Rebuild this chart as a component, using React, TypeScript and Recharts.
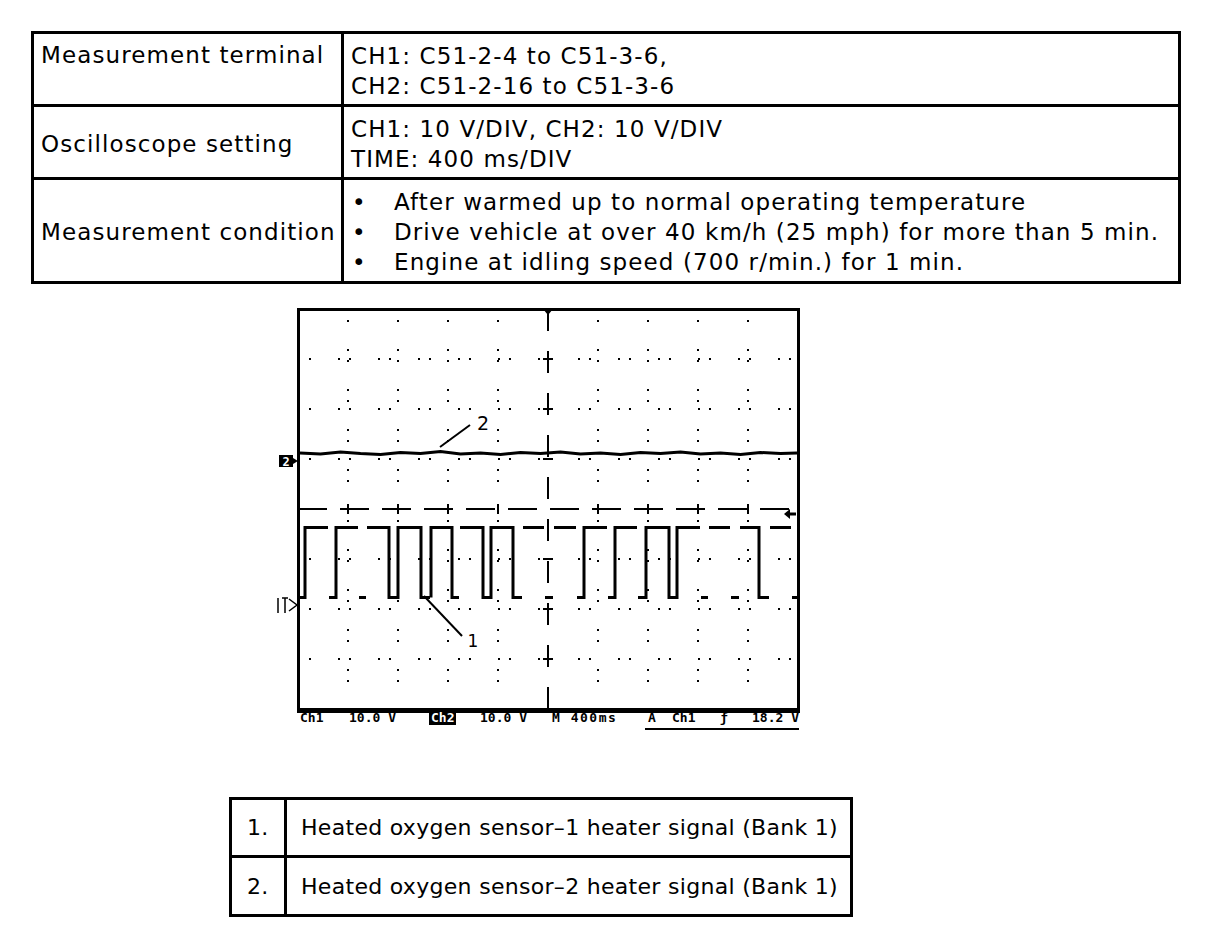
import React from "react";
import {
  ComposedChart,
  Line,
  XAxis,
  YAxis,
  CartesianGrid,
  ReferenceLine,
  ReferenceDot,
} from "recharts";

// scope setup
const VOLTS_PER_DIV = 10;
const MS_PER_DIV = 400;
const CH1_GROUND_DIV = -1.92; // CH1 "1" marker position (div from centre)
const CH2_GROUND_DIV = 0.96; // CH2 "2" marker position
const TRIGGER_LEVEL = 18.2; // V on CH1
const TRIGGER_TIME = 2000; // ms

const gridTimes = [400, 800, 1200, 1600, 2400, 2800, 3200, 3600];
const gridDivs = [-3, -2, -1, 1, 2, 3];
const centreTickTimes = [400, 800, 1200, 1600, 2400, 2800, 3200, 3600];
const centreTickDivs = [-3, -2, -1, 1, 2, 3];
const minorTimes = [
  80, 160, 240, 320, 480, 560, 640, 720, 880, 960, 1040, 1120, 1280, 1360, 1440, 1520,
  1680, 1760, 1840, 1920, 2080, 2160, 2240, 2320, 2480, 2560, 2640, 2720, 2880, 2960,
  3040, 3120, 3280, 3360, 3440, 3520, 3680, 3760, 3840, 3920,
];

// CH1 heater signal (sensor 1), volts; trace is broken between pieces as on the screen
const HI = 15.5;
const LO = 1.5;
const ch1Pieces: [number, number][][] = [
  [[16, LO], [56, LO], [56, HI], [240, HI]],
  [[248, LO], [304, LO], [304, HI], [480, HI]],
  [[488, LO], [544, LO]],
  [[552, HI], [728, HI], [728, LO], [800, LO], [800, HI], [984, HI], [984, LO], [1056, LO]],
  [[1064, LO], [1064, HI], [1232, HI], [1232, LO], [1288, LO]],
  [[1296, HI], [1480, HI], [1480, LO], [1544, LO], [1544, HI], [1720, HI], [1720, LO], [1792, LO]],
  [[1800, HI], [1968, HI]],
  [[1976, LO], [2040, LO]],
  [[2048, HI], [2224, HI]],
  [[2232, LO], [2288, LO], [2288, HI], [2472, HI]],
  [[2480, LO], [2536, LO], [2536, HI], [2712, HI]],
  [[2720, LO], [2784, LO], [2784, HI], [2968, HI], [2968, LO], [3032, LO], [3032, HI], [3216, HI]],
  [[3224, LO], [3280, LO]],
  [[3288, HI], [3456, HI]],
  [[3464, LO], [3528, LO]],
  [[3536, HI], [3688, HI], [3688, LO], [3768, LO]],
  [[3776, HI], [3944, HI]],
  [[3952, LO], [3992, LO]],
];

// CH2 heater signal (sensor 2), volts
const ch2Samples: [number, number][] = [
  [16, 1.6], [180, 1.4], [340, 1.8], [500, 1.5], [660, 1.3], [820, 1.7], [980, 1.5],
  [1140, 1.9], [1300, 1.4], [1460, 1.6], [1620, 1.3], [1780, 1.7], [1940, 1.5], [2100, 1.8],
  [2260, 1.4], [2420, 1.6], [2580, 1.3], [2740, 1.7], [2900, 1.5], [3060, 1.8], [3220, 1.4],
  [3380, 1.6], [3540, 1.3], [3700, 1.7], [3860, 1.5], [3992, 1.6],
];

// leader lines for the callouts: [t, div]
const callout2: [number, number][] = [[1136, 1.24], [1376, 1.68]];
const callout2Label: [number, number] = [1480, 1.72];
const callout1: [number, number][] = [[1008, -1.74], [1312, -2.54]];
const callout1Label: [number, number] = [1400, -2.62];

const ch1Data: { t: number; v: number | null }[] = [];
ch1Pieces.forEach((piece, i) => {
  if (i > 0) {
    const prev = ch1Pieces[i - 1];
    ch1Data.push({ t: (prev[prev.length - 1][0] + piece[0][0]) / 2, v: null });
  }
  piece.forEach(([t, v]) => ch1Data.push({ t, v }));
});
const ch2Data = ch2Samples.map(([t, v]) => ({ t, v }));

const chDomain = (groundDiv: number) => [
  (-4 - groundDiv) * VOLTS_PER_DIV,
  (4 - groundDiv) * VOLTS_PER_DIV,
];

const P = (v: number) => v - 8; // page px -> wrapper px

const cell: React.CSSProperties = {
  position: "absolute",
  fontSize: 23,
  lineHeight: "30px",
  whiteSpace: "nowrap",
  letterSpacing: 1.1,
};

const legendCell: React.CSSProperties = {
  ...cell,
  fontSize: 22,
  letterSpacing: 0.3,
};

const status: React.CSSProperties = {
  position: "absolute",
  top: P(711),
  fontFamily: "'DejaVu Sans Mono', monospace",
  fontWeight: "bold",
  fontSize: 13,
  lineHeight: "14px",
  whiteSpace: "nowrap",
};

function Scope() {
  return (
    <ComposedChart
      width={540}
      height={420}
      margin={{ top: 9, right: 12, bottom: 11, left: 28 }}
    >
      <XAxis xAxisId="t" dataKey="t" type="number" domain={[0, MS_PER_DIV * 10]} ticks={gridTimes} hide allowDataOverflow />
      <XAxis
        xAxisId="top"
        dataKey="t"
        type="number"
        orientation="top"
        domain={[0, MS_PER_DIV * 10]}
        ticks={minorTimes}
        allowDataOverflow
        height={0}
        mirror
        axisLine={false}
        tick={false}
        tickSize={3}
        tickLine={{ stroke: "#000", strokeWidth: 2 }}
      />
      <YAxis yAxisId="div" type="number" domain={[-4, 4]} ticks={gridDivs} hide allowDataOverflow />
      <YAxis yAxisId="ch1" type="number" domain={chDomain(CH1_GROUND_DIV)} hide allowDataOverflow />
      <YAxis yAxisId="ch2" type="number" domain={chDomain(CH2_GROUND_DIV)} hide allowDataOverflow />
      <CartesianGrid xAxisId="t" yAxisId="div" stroke="#000" strokeWidth={2} strokeDasharray="2 9 2 27" />
      <ReferenceLine xAxisId="t" yAxisId="div" x={TRIGGER_TIME} stroke="#000" strokeWidth={2} strokeDasharray="22 20" />
      <ReferenceLine xAxisId="t" yAxisId="div" y={0} stroke="#000" strokeWidth={2} strokeDasharray="29 13" />
      {centreTickTimes.map((t) => (
        <ReferenceLine
          key={`tx${t}`}
          xAxisId="t"
          yAxisId="div"
          segment={[{ x: t, y: -0.1 }, { x: t, y: 0.1 }]}
          stroke="#000"
          strokeWidth={2}
        />
      ))}
      {centreTickDivs.map((d) => (
        <ReferenceLine
          key={`ty${d}`}
          xAxisId="t"
          yAxisId="div"
          segment={[{ x: TRIGGER_TIME - 40, y: d }, { x: TRIGGER_TIME + 40, y: d }]}
          stroke="#000"
          strokeWidth={2}
        />
      ))}
      <Line
        xAxisId="t"
        yAxisId="ch2"
        data={ch2Data}
        dataKey="v"
        type="linear"
        stroke="#000"
        strokeWidth={3}
        dot={false}
        isAnimationActive={false}
      />
      <Line
        xAxisId="t"
        yAxisId="ch1"
        data={ch1Data}
        dataKey="v"
        type="linear"
        stroke="#000"
        strokeWidth={3}
        dot={false}
        connectNulls={false}
        isAnimationActive={false}
      />
      <ReferenceLine
        xAxisId="t"
        yAxisId="div"
        segment={callout2.map(([x, y]) => ({ x, y }))}
        stroke="#000"
        strokeWidth={2}
        ifOverflow="visible"
      />
      <ReferenceLine
        xAxisId="t"
        yAxisId="div"
        segment={callout1.map(([x, y]) => ({ x, y }))}
        stroke="#000"
        strokeWidth={2}
        ifOverflow="visible"
      />
      <ReferenceDot
        xAxisId="t"
        yAxisId="div"
        x={callout2Label[0]}
        y={callout2Label[1]}
        ifOverflow="visible"
        shape={(p: any) => (
          <text x={p.cx} y={p.cy + 7} textAnchor="middle" fontSize={19} fontFamily="DejaVu Sans, sans-serif" fill="#000">
            2
          </text>
        )}
      />
      <ReferenceDot
        xAxisId="t"
        yAxisId="div"
        x={callout1Label[0]}
        y={callout1Label[1]}
        ifOverflow="visible"
        shape={(p: any) => (
          <text x={p.cx} y={p.cy + 7} textAnchor="middle" fontSize={17} fontFamily="DejaVu Sans, sans-serif" fill="#000">
            1
          </text>
        )}
      />
      {/* channel ground markers */}
      <ReferenceDot
        xAxisId="t"
        yAxisId="ch2"
        x={0}
        y={0}
        ifOverflow="visible"
        shape={(p: any) => (
          <g>
            <rect x={p.cx - 19} y={p.cy - 6} width={14} height={12} fill="#000" />
            <text x={p.cx - 12} y={p.cy + 5} textAnchor="middle" fontSize={12} fontWeight="bold" fontFamily="DejaVu Sans Mono, monospace" fill="#fff">
              2
            </text>
            <path d={`M${p.cx - 5},${p.cy - 3} L${p.cx},${p.cy} L${p.cx - 5},${p.cy + 3} Z`} fill="#000" />
          </g>
        )}
      />
      <ReferenceDot
        xAxisId="t"
        yAxisId="ch1"
        x={0}
        y={0}
        ifOverflow="visible"
        shape={(p: any) => (
          <g fill="none" stroke="#000" strokeWidth={1.5}>
            <line x1={p.cx - 20} y1={p.cy - 7} x2={p.cx - 20} y2={p.cy + 8} />
            <path d={`M${p.cx - 16},${p.cy - 7} L${p.cx - 10},${p.cy - 7} M${p.cx - 13},${p.cy - 7} L${p.cx - 13},${p.cy + 8}`} />
            <path d={`M${p.cx - 9},${p.cy - 6} L${p.cx - 1},${p.cy} L${p.cx - 9},${p.cy + 6}`} />
          </g>
        )}
      />
      {/* trigger level and position */}
      <ReferenceDot
        xAxisId="t"
        yAxisId="ch1"
        x={MS_PER_DIV * 10}
        y={TRIGGER_LEVEL}
        ifOverflow="visible"
        shape={(p: any) => (
          <g>
            <path d={`M${p.cx - 14},${p.cy} L${p.cx - 8},${p.cy - 5} L${p.cx - 8},${p.cy + 5} Z`} fill="#000" />
            <line x1={p.cx - 9} y1={p.cy} x2={p.cx - 2} y2={p.cy} stroke="#000" strokeWidth={3} />
          </g>
        )}
      />
      <ReferenceDot
        xAxisId="t"
        yAxisId="div"
        x={TRIGGER_TIME}
        y={4}
        ifOverflow="visible"
        shape={(p: any) => (
          <path d={`M${p.cx - 5},${p.cy} L${p.cx + 5},${p.cy} L${p.cx},${p.cy + 6} Z`} fill="#000" />
        )}
      />
    </ComposedChart>
  );
}

export default function App() {
  return (
    <div
      style={{
        position: "relative",
        width: 1200,
        height: 928,
        fontFamily: "'DejaVu Sans', Verdana, sans-serif",
        color: "#000",
        background: "#fff",
      }}
    >
      {/* conditions table */}
      <div
        style={{
          position: "absolute",
          left: P(31),
          top: P(31),
          width: 1150,
          height: 253,
          border: "3px solid #000",
          boxSizing: "border-box",
        }}
      />
      <div style={{ position: "absolute", left: P(341), top: P(31), width: 3, height: 253, background: "#000" }} />
      <div style={{ position: "absolute", left: P(31), top: P(104), width: 1150, height: 3, background: "#000" }} />
      <div style={{ position: "absolute", left: P(31), top: P(177), width: 1150, height: 3, background: "#000" }} />

      <div style={{ ...cell, left: P(41), top: P(40) }}>Measurement terminal</div>
      <div style={{ ...cell, left: P(351), top: P(41) }}>
        CH1: C51-2-4 to C51-3-6,
        <br />
        CH2: C51-2-16 to C51-3-6
      </div>
      <div style={{ ...cell, left: P(41), top: P(129) }}>Oscilloscope setting</div>
      <div style={{ ...cell, left: P(351), top: P(114) }}>
        CH1: 10 V/DIV, CH2: 10 V/DIV
        <br />
        TIME: 400 ms/DIV
      </div>
      <div style={{ ...cell, left: P(41), top: P(217) }}>Measurement condition</div>
      <div style={{ ...cell, left: P(352), top: P(187) }}>
        •<br />•<br />•
      </div>
      <div style={{ ...cell, left: P(394), top: P(187) }}>
        After warmed up to normal operating temperature
        <br />
        Drive vehicle at over 40 km/h (25 mph) for more than 5 min.
        <br />
        Engine at idling speed (700 r/min.) for 1 min.
      </div>

      {/* oscilloscope */}
      <div style={{ position: "absolute", left: P(270), top: P(300) }}>
        <Scope />
      </div>
      <div
        style={{
          position: "absolute",
          left: P(297),
          top: P(308),
          width: 503,
          height: 405,
          borderStyle: "solid",
          borderColor: "#000",
          borderWidth: "3px 3px 5px 3px",
          boxSizing: "border-box",
          pointerEvents: "none",
        }}
      />
      <div style={{ ...status, left: P(300) }}>Ch1</div>
      <div style={{ ...status, left: P(349) }}>10.0 V</div>
      <div style={{ ...status, left: P(429), background: "#000", color: "#fff", padding: "0 2px" }}>Ch2</div>
      <div style={{ ...status, left: P(480) }}>10.0 V</div>
      <div style={{ ...status, left: P(552), letterSpacing: 1.5 }}>M 400ms</div>
      <div style={{ ...status, left: P(648) }}>A</div>
      <div style={{ ...status, left: P(672) }}>Ch1</div>
      <div style={{ ...status, left: P(720) }}>ƒ</div>
      <div style={{ ...status, left: P(752) }}>18.2 V</div>
      <div style={{ position: "absolute", left: P(645), top: P(728), width: 154, height: 2, background: "#000" }} />

      {/* legend table */}
      <div
        style={{
          position: "absolute",
          left: P(229),
          top: P(797),
          width: 624,
          height: 120,
          border: "3px solid #000",
          boxSizing: "border-box",
        }}
      />
      <div style={{ position: "absolute", left: P(284), top: P(797), width: 3, height: 120, background: "#000" }} />
      <div style={{ position: "absolute", left: P(229), top: P(855), width: 624, height: 3, background: "#000" }} />
      <div style={{ ...legendCell, left: P(247), top: P(813) }}>1.</div>
      <div style={{ ...legendCell, left: P(301), top: P(813) }}>Heated oxygen sensor–1 heater signal (Bank 1)</div>
      <div style={{ ...legendCell, left: P(247), top: P(872) }}>2.</div>
      <div style={{ ...legendCell, left: P(301), top: P(872) }}>Heated oxygen sensor–2 heater signal (Bank 1)</div>
    </div>
  );
}
